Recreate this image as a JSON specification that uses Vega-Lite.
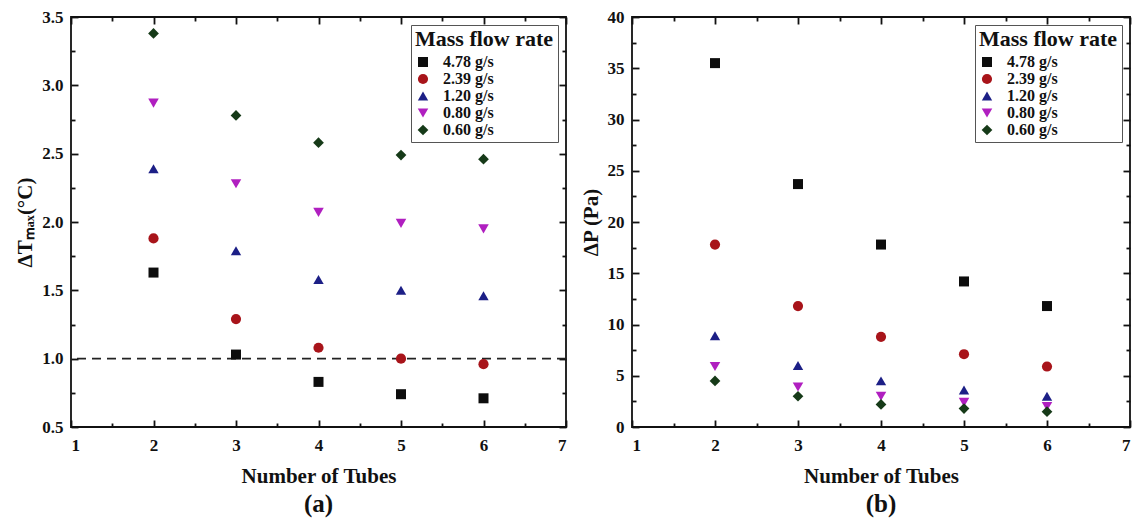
{
  "$schema": "https://vega.github.io/schema/vega-lite/v6.json",
  "padding": {"left": 13, "top": 7, "right": 0, "bottom": 0},
  "background": "white",
  "datasets": {
    "dt": [
      {"tubes": 2, "rate": "4.78 g/s", "v": 1.63}, {"tubes": 3, "rate": "4.78 g/s", "v": 1.03}, {"tubes": 4, "rate": "4.78 g/s", "v": 0.83}, {"tubes": 5, "rate": "4.78 g/s", "v": 0.74}, {"tubes": 6, "rate": "4.78 g/s", "v": 0.71},
      {"tubes": 2, "rate": "2.39 g/s", "v": 1.88}, {"tubes": 3, "rate": "2.39 g/s", "v": 1.29}, {"tubes": 4, "rate": "2.39 g/s", "v": 1.08}, {"tubes": 5, "rate": "2.39 g/s", "v": 1.00}, {"tubes": 6, "rate": "2.39 g/s", "v": 0.96},
      {"tubes": 2, "rate": "1.20 g/s", "v": 2.39}, {"tubes": 3, "rate": "1.20 g/s", "v": 1.79}, {"tubes": 4, "rate": "1.20 g/s", "v": 1.58}, {"tubes": 5, "rate": "1.20 g/s", "v": 1.50}, {"tubes": 6, "rate": "1.20 g/s", "v": 1.46},
      {"tubes": 2, "rate": "0.80 g/s", "v": 2.87}, {"tubes": 3, "rate": "0.80 g/s", "v": 2.28}, {"tubes": 4, "rate": "0.80 g/s", "v": 2.07}, {"tubes": 5, "rate": "0.80 g/s", "v": 1.99}, {"tubes": 6, "rate": "0.80 g/s", "v": 1.95},
      {"tubes": 2, "rate": "0.60 g/s", "v": 3.38}, {"tubes": 3, "rate": "0.60 g/s", "v": 2.78}, {"tubes": 4, "rate": "0.60 g/s", "v": 2.58}, {"tubes": 5, "rate": "0.60 g/s", "v": 2.49}, {"tubes": 6, "rate": "0.60 g/s", "v": 2.46}
    ],
    "dp": [
      {"tubes": 2, "rate": "4.78 g/s", "v": 35.5}, {"tubes": 3, "rate": "4.78 g/s", "v": 23.7}, {"tubes": 4, "rate": "4.78 g/s", "v": 17.8}, {"tubes": 5, "rate": "4.78 g/s", "v": 14.2}, {"tubes": 6, "rate": "4.78 g/s", "v": 11.8},
      {"tubes": 2, "rate": "2.39 g/s", "v": 17.8}, {"tubes": 3, "rate": "2.39 g/s", "v": 11.8}, {"tubes": 4, "rate": "2.39 g/s", "v": 8.8}, {"tubes": 5, "rate": "2.39 g/s", "v": 7.1}, {"tubes": 6, "rate": "2.39 g/s", "v": 5.9},
      {"tubes": 2, "rate": "1.20 g/s", "v": 8.9}, {"tubes": 3, "rate": "1.20 g/s", "v": 6.0}, {"tubes": 4, "rate": "1.20 g/s", "v": 4.5}, {"tubes": 5, "rate": "1.20 g/s", "v": 3.6}, {"tubes": 6, "rate": "1.20 g/s", "v": 3.0},
      {"tubes": 2, "rate": "0.80 g/s", "v": 5.9}, {"tubes": 3, "rate": "0.80 g/s", "v": 3.9}, {"tubes": 4, "rate": "0.80 g/s", "v": 3.0}, {"tubes": 5, "rate": "0.80 g/s", "v": 2.4}, {"tubes": 6, "rate": "0.80 g/s", "v": 2.0},
      {"tubes": 2, "rate": "0.60 g/s", "v": 4.5}, {"tubes": 3, "rate": "0.60 g/s", "v": 3.0}, {"tubes": 4, "rate": "0.60 g/s", "v": 2.2}, {"tubes": 5, "rate": "0.60 g/s", "v": 1.8}, {"tubes": 6, "rate": "0.60 g/s", "v": 1.5}
    ],
    "ref": [{"y": 1}],
    "none": []
  },
  "config": {
    "font": "Liberation Serif",
    "view": {"stroke": "#111", "strokeWidth": 1.8},
    "concat": {"spacing": 11},
    "axis": {
      "domain": false,
      "grid": false,
      "zindex": 1,
      "ticks": true,
      "tickColor": "#111",
      "tickWidth": 1.8,
      "tickOpacity": 1,
      "labelFont": "Liberation Serif",
      "labelFontSize": 17,
      "labelFontWeight": "bold",
      "labelColor": "#111",
      "titleFont": "Liberation Serif",
      "titleFontSize": 21,
      "titleFontWeight": "bold",
      "titleColor": "#111"
    },
    "legend": {
      "orient": "top-right",
      "offset": 8,
      "strokeColor": "#555",
      "padding": 4,
      "titleFont": "Liberation Serif",
      "titleFontSize": 22,
      "titleFontWeight": "bold",
      "titleColor": "#111",
      "titlePadding": 3,
      "labelFont": "Liberation Serif",
      "labelFontSize": 16,
      "labelFontWeight": "bold",
      "labelColor": "#111",
      "labelOffset": 12,
      "symbolStrokeWidth": 0,
      "rowPadding": 1,
      "fillColor": "white"
    },
    "title": {"font": "Liberation Serif", "fontSize": 25, "fontWeight": "bold", "color": "#111"}
  },
  "hconcat": [
    {
      "width": 495,
      "height": 410,
      "title": {"text": "(a)", "orient": "bottom", "offset": 6},
      "layer": [
        {
          "data": {"name": "ref"},
          "mark": {"type": "rule", "strokeDash": [9, 6], "strokeWidth": 1.6, "color": "#222"},
          "encoding": {"y": {"field": "y", "type": "quantitative", "axis": null, "scale": {"domain": [0.5, 3.5], "nice": false, "zero": false}}}
        },
        {
          "data": {"name": "dt"},
          "mark": {"type": "point", "filled": true, "opacity": 1},
          "encoding": {
            "x": {"field": "tubes", "type": "quantitative", "scale": {"domain": [1, 7], "nice": false},
              "axis": {"orient": "bottom", "title": "Number of Tubes", "values": [1, 2, 3, 4, 5, 6, 7], "format": "d",
                "offset": -7, "tickSize": 7, "labelPadding": 10, "titlePadding": 12}},
            "y": {"field": "v", "type": "quantitative", "scale": {"domain": [0.5, 3.5], "nice": false, "zero": false},
              "axis": {"orient": "left", "title": "ΔTₘₐₓ(°C)", "values": [0.5, 1, 1.5, 2, 2.5, 3, 3.5], "format": ".1f",
                "offset": -7, "tickSize": 7, "labelPadding": 8, "titlePadding": 6}},
            "shape": {"field": "rate", "type": "nominal", "scale": {"domain": ["4.78 g/s", "2.39 g/s", "1.20 g/s", "0.80 g/s", "0.60 g/s"], "range": ["square", "circle", "triangle-up", "triangle-down", "diamond"]}, "legend": {"title": "Mass flow rate"}},
            "color": {"field": "rate", "type": "nominal", "scale": {"domain": ["4.78 g/s", "2.39 g/s", "1.20 g/s", "0.80 g/s", "0.60 g/s"], "range": ["#0d0d0d", "#a8141a", "#1c1f86", "#b01fc0", "#163a18"]}, "legend": {"title": "Mass flow rate"}},
            "size": {"field": "rate", "type": "nominal", "scale": {"domain": ["4.78 g/s", "2.39 g/s", "1.20 g/s", "0.80 g/s", "0.60 g/s"], "range": [100, 115, 200, 200, 165]}, "legend": {"title": "Mass flow rate"}}
          }
        },
        {
          "data": {"name": "none"},
          "mark": "point",
          "encoding": {
            "x": {"field": "tubes", "type": "quantitative",
              "axis": {"orient": "top", "title": null, "labels": false, "values": [1, 2, 3, 4, 5, 6, 7], "offset": -7, "tickSize": 7}},
            "y": {"field": "v", "type": "quantitative",
              "axis": {"orient": "right", "title": null, "labels": false, "values": [0.5, 1, 1.5, 2, 2.5, 3, 3.5], "offset": -7, "tickSize": 7}}
          }
        },
        {
          "data": {"name": "none"},
          "mark": "point",
          "encoding": {
            "x": {"field": "tubes", "type": "quantitative",
              "axis": {"orient": "bottom", "title": null, "labels": false, "values": [1.5, 2.5, 3.5, 4.5, 5.5, 6.5], "offset": -4, "tickSize": 4}},
            "y": {"field": "v", "type": "quantitative",
              "axis": {"orient": "left", "title": null, "labels": false, "values": [0.75, 1.25, 1.75, 2.25, 2.75, 3.25], "offset": -4, "tickSize": 4}}
          }
        },
        {
          "data": {"name": "none"},
          "mark": "point",
          "encoding": {
            "x": {"field": "tubes", "type": "quantitative",
              "axis": {"orient": "top", "title": null, "labels": false, "values": [1.5, 2.5, 3.5, 4.5, 5.5, 6.5], "offset": -4, "tickSize": 4}},
            "y": {"field": "v", "type": "quantitative",
              "axis": {"orient": "right", "title": null, "labels": false, "values": [0.75, 1.25, 1.75, 2.25, 2.75, 3.25], "offset": -4, "tickSize": 4}}
          }
        }
      ],
      "resolve": {"axis": {"x": "independent", "y": "independent"}}
    },
    {
      "width": 498,
      "height": 410,
      "title": {"text": "(b)", "orient": "bottom", "offset": 6},
      "layer": [
        {
          "data": {"name": "dp"},
          "mark": {"type": "point", "filled": true, "opacity": 1},
          "encoding": {
            "x": {"field": "tubes", "type": "quantitative", "scale": {"domain": [1, 7], "nice": false},
              "axis": {"orient": "bottom", "title": "Number of Tubes", "values": [1, 2, 3, 4, 5, 6, 7], "format": "d",
                "offset": -7, "tickSize": 7, "labelPadding": 10, "titlePadding": 12}},
            "y": {"field": "v", "type": "quantitative", "scale": {"domain": [0, 40], "nice": false, "zero": false},
              "axis": {"orient": "left", "title": "ΔP (Pa)", "values": [0, 5, 10, 15, 20, 25, 30, 35, 40], "format": "d",
                "offset": -7, "tickSize": 7, "labelPadding": 8, "titlePadding": 6}},
            "shape": {"field": "rate", "type": "nominal", "scale": {"domain": ["4.78 g/s", "2.39 g/s", "1.20 g/s", "0.80 g/s", "0.60 g/s"], "range": ["square", "circle", "triangle-up", "triangle-down", "diamond"]}, "legend": {"title": "Mass flow rate"}},
            "color": {"field": "rate", "type": "nominal", "scale": {"domain": ["4.78 g/s", "2.39 g/s", "1.20 g/s", "0.80 g/s", "0.60 g/s"], "range": ["#0d0d0d", "#a8141a", "#1c1f86", "#b01fc0", "#163a18"]}, "legend": {"title": "Mass flow rate"}},
            "size": {"field": "rate", "type": "nominal", "scale": {"domain": ["4.78 g/s", "2.39 g/s", "1.20 g/s", "0.80 g/s", "0.60 g/s"], "range": [100, 115, 200, 200, 165]}, "legend": {"title": "Mass flow rate"}}
          }
        },
        {
          "data": {"name": "none"},
          "mark": "point",
          "encoding": {
            "x": {"field": "tubes", "type": "quantitative",
              "axis": {"orient": "top", "title": null, "labels": false, "values": [1, 2, 3, 4, 5, 6, 7], "offset": -7, "tickSize": 7}},
            "y": {"field": "v", "type": "quantitative",
              "axis": {"orient": "right", "title": null, "labels": false, "values": [0, 5, 10, 15, 20, 25, 30, 35, 40], "offset": -7, "tickSize": 7}}
          }
        },
        {
          "data": {"name": "none"},
          "mark": "point",
          "encoding": {
            "x": {"field": "tubes", "type": "quantitative",
              "axis": {"orient": "bottom", "title": null, "labels": false, "values": [1.5, 2.5, 3.5, 4.5, 5.5, 6.5], "offset": -4, "tickSize": 4}},
            "y": {"field": "v", "type": "quantitative",
              "axis": {"orient": "left", "title": null, "labels": false, "values": [2.5, 7.5, 12.5, 17.5, 22.5, 27.5, 32.5, 37.5], "offset": -4, "tickSize": 4}}
          }
        },
        {
          "data": {"name": "none"},
          "mark": "point",
          "encoding": {
            "x": {"field": "tubes", "type": "quantitative",
              "axis": {"orient": "top", "title": null, "labels": false, "values": [1.5, 2.5, 3.5, 4.5, 5.5, 6.5], "offset": -4, "tickSize": 4}},
            "y": {"field": "v", "type": "quantitative",
              "axis": {"orient": "right", "title": null, "labels": false, "values": [2.5, 7.5, 12.5, 17.5, 22.5, 27.5, 32.5, 37.5], "offset": -4, "tickSize": 4}}
          }
        }
      ],
      "resolve": {"axis": {"x": "independent", "y": "independent"}}
    }
  ],
  "resolve": {"scale": {"color": "independent", "shape": "independent", "size": "independent"}}
}
